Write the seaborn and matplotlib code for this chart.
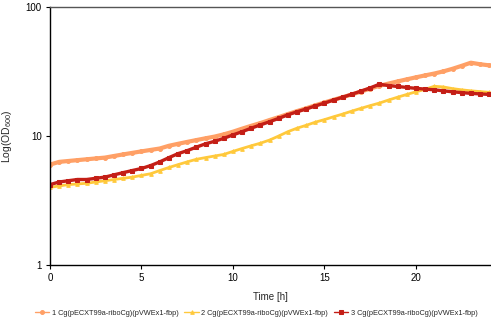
import numpy as np
import pandas as pd
import matplotlib
matplotlib.use("Agg")
import matplotlib.pyplot as plt
import seaborn as sns
from matplotlib.ticker import FixedLocator, NullLocator, FixedFormatter

# sampling times [h]
time_h = [0, 0.5, 1, 1.5, 2, 2.5, 3, 3.5, 4, 4.5, 5, 5.5, 6, 6.5, 7, 7.5, 8, 8.5,
          9, 9.5, 10, 10.5, 11, 11.5, 12, 12.5, 13, 13.5, 14, 14.5, 15, 15.5, 16,
          16.5, 17, 17.5, 18, 18.5, 19, 19.5, 20, 20.5, 21, 21.5, 22, 22.5, 23,
          23.5, 24]

# OD600 readings per culture
od_1 = [6.0, 6.3, 6.4, 6.5, 6.6, 6.7, 6.8, 7.0, 7.2, 7.4, 7.6, 7.8, 8.0, 8.4, 8.7,
        9.0, 9.3, 9.6, 9.9, 10.3, 10.8, 11.4, 12.0, 12.6, 13.3, 14.0, 14.8, 15.6,
        16.4, 17.3, 18.2, 19.1, 20.0, 21.0, 22.1, 23.3, 24.5, 25.5, 26.5, 27.5,
        28.5, 29.5, 30.5, 31.7, 33.2, 35.0, 37.0, 36.0, 35.3]
od_2 = [4.0, 4.1, 4.2, 4.25, 4.3, 4.4, 4.5, 4.6, 4.7, 4.8, 4.95, 5.1, 5.4, 5.7,
        6.0, 6.3, 6.6, 6.8, 7.0, 7.2, 7.6, 8.0, 8.4, 8.8, 9.3, 10.0, 10.8, 11.5,
        12.1, 12.8, 13.4, 14.1, 14.8, 15.6, 16.4, 17.2, 18.0, 19.0, 20.0, 21.0,
        22.0, 23.0, 24.3, 24.0, 23.3, 22.8, 22.4, 22.1, 21.8]
od_3 = [4.2, 4.4, 4.5, 4.6, 4.6, 4.7, 4.8, 5.0, 5.2, 5.4, 5.6, 5.9, 6.3, 6.8, 7.3,
        7.7, 8.2, 8.7, 9.1, 9.6, 10.2, 10.8, 11.5, 12.2, 12.9, 13.7, 14.6, 15.4,
        16.2, 17.1, 18.0, 19.0, 20.0, 21.1, 22.3, 23.6, 25.2, 24.6, 24.2, 23.8,
        23.4, 23.1, 22.8, 22.4, 22.0, 21.7, 21.4, 21.2, 21.0]

labels = ["1 Cg(pECXT99a-riboCg)(pVWEx1-fbp)",
          "2 Cg(pECXT99a-riboCg)(pVWEx1-fbp)",
          "3 Cg(pECXT99a-riboCg)(pVWEx1-fbp)"]
colors = ["#FFA066", "#FFC93C", "#C41E16"]
markers = ["o", "^", "s"]
widths = [3.0, 2.0, 2.4]
msizes = [2.8, 2.6, 2.2]

sns.set_style("white")
plt.rcParams["font.family"] = ["Liberation Sans", "DejaVu Sans"]

fig = plt.figure(figsize=(4.91, 3.26), dpi=100)
ax = fig.add_axes([50 / 491, 1 - 265 / 326, 441 / 491, 258 / 326])

for od, lab, col, mk, lw, ms in zip([od_1, od_2, od_3], labels, colors, markers,
                                    widths, msizes):
    df = pd.DataFrame({"t": time_h, "od": od})
    sns.lineplot(data=df, x="t", y="od", ax=ax, color=col, marker=mk,
                 markersize=ms, markeredgecolor=col, linewidth=lw, label=lab)

ax.set_yscale("log")
ax.set_ylim(1, 100)
ax.set_xlim(0, 24.1)
ax.yaxis.set_major_locator(FixedLocator([1, 10, 100]))
ax.yaxis.set_major_formatter(FixedFormatter(["1", "10", "100"]))
ax.yaxis.set_minor_locator(NullLocator())
ax.set_xticks([0, 5, 10, 15, 20])
ax.tick_params(axis="both", direction="out", length=3, width=0.8,
               labelsize=7, colors="black", left=True, bottom=True, pad=3)

ax.set_xlabel("Time [h]", fontsize=7, labelpad=6)
ax.set_ylabel(r"Log(OD$_{\mathregular{600}}$)", fontsize=7.5, labelpad=8)

for s in ["left", "bottom"]:
    ax.spines[s].set_color("black")
    ax.spines[s].set_linewidth(1.0)
ax.spines["top"].set_color("#555555")
ax.spines["top"].set_linewidth(1.0)
ax.spines["right"].set_visible(False)

h, l = ax.get_legend_handles_labels()
ax.get_legend().remove()
leg = fig.legend(h, l, loc="center", bbox_to_anchor=(256 / 491, 1 - 313 / 326),
                 ncol=3, frameon=False, fontsize=5.3, handlelength=2.0,
                 handletextpad=0.3, columnspacing=0.8, markerscale=1.0)
for line in leg.get_lines():
    line.set_linewidth(1.0)

fig.savefig("out.png", dpi=100)
